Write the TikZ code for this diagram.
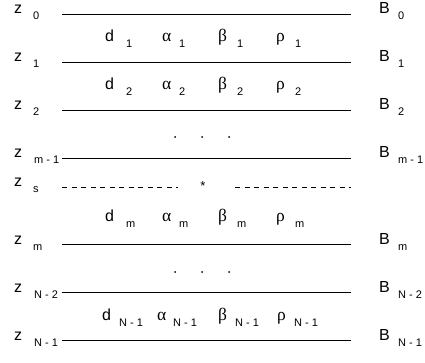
\documentclass[tikz,border=0pt]{standalone}
\usepackage{fontspec}
\setmainfont{Liberation Sans}
\newfontfamily\grk{Liberation Serif}
\newcommand{\lbl}[6]{%
  \node[mainlbl] (#1) at (#2,#3) {#4};
  \node[sublbl] (#1s) at (#5,#3+6) {#6};}
\newcommand{\glbl}[6]{%
  \node[grklbl] (#1) at (#2,#3) {#4};
  \node[sublbl] (#1s) at (#5,#3+6) {#6};}
\begin{document}
\begin{tikzpicture}[x=1pt,y=-1pt,
  mainlbl/.style={anchor=base west,inner sep=0pt,font=\fontsize{16}{18}\selectfont},
  grklbl/.style={anchor=base west,inner sep=0pt,font=\fontsize{17.5}{18}\selectfont\grk},
  sublbl/.style={anchor=base west,inner sep=0pt,font=\fontsize{11}{12}\selectfont},
  layerline/.style={line width=0.8pt},
  srcline/.style={line width=0.7pt,dash pattern=on 5pt off 4.5pt},
  dotmark/.style={circle,fill,inner sep=0pt,minimum size=2pt}]
\useasboundingbox (0,0) rectangle (425,363);
% interface lines
\foreach \n/\y in {a/14,b/62,c/110,d/158,e/244,f/292,g/340}{
  \coordinate (\n L) at (62,\y);
  \coordinate (\n R) at (351,\y);
  \draw[layerline] (\n L) -- (\n R);
}
\coordinate (sL) at (62,187);
\coordinate (sM1) at (178,187);
\coordinate (sM2) at (235,187);
\coordinate (sR) at (351,187);
\draw[srcline] (sL) -- (sM1);
\draw[srcline] (sM2) -- (sR);
\node[anchor=base,inner sep=0pt,font=\fontsize{13}{13}\selectfont] (star) at (203,191) {*};
% z labels
\lbl{z0}{14}{14}{z}{33}{0}
\lbl{z1}{14}{62}{z}{33}{1}
\lbl{z2}{14}{110}{z}{33}{2}
\lbl{zm1}{14}{158}{z}{34}{m - 1}
\lbl{zs}{14}{187}{z}{33}{s}
\lbl{zm}{14}{244}{z}{33}{m}
\lbl{zN2}{14}{292}{z}{34}{N - 2}
\lbl{zN1}{14}{340}{z}{34}{N - 1}
% B labels
\lbl{B0}{379}{14}{B}{398}{0}
\lbl{B1}{379}{62}{B}{398}{1}
\lbl{B2}{379}{110}{B}{398}{2}
\lbl{Bm1}{379}{158}{B}{398}{m - 1}
\lbl{Bm}{379}{244}{B}{398}{m}
\lbl{BN2}{379}{292}{B}{398}{N - 2}
\lbl{BN1}{379}{340}{B}{398}{N - 1}
% layer parameters
\lbl{d1}{105}{42}{d}{126}{1}
\glbl{a1}{162}{42}{α}{179}{1}
\glbl{b1}{218}{42}{β}{237}{1}
\glbl{r1}{276}{42}{ρ}{295}{1}
\lbl{d2}{105}{90}{d}{126}{2}
\glbl{a2}{162}{90}{α}{179}{2}
\glbl{b2}{218}{90}{β}{237}{2}
\glbl{r2}{276}{90}{ρ}{295}{2}
\lbl{dm}{105}{222}{d}{126}{m}
\glbl{am}{162}{222}{α}{179}{m}
\glbl{bm}{218}{222}{β}{237}{m}
\glbl{rm}{276}{222}{ρ}{295}{m}
\lbl{dN}{102}{320}{d}{119}{N - 1}
\glbl{aN}{157}{320}{α}{173}{N - 1}
\glbl{bN}{218}{320}{β}{235}{N - 1}
\glbl{rN}{277}{320}{ρ}{294}{N - 1}
% dots
\foreach \x/\k in {175/1,202/2,229/3}{
  \node[dotmark] (p\k) at (\x,137) {};
  \node[dotmark] (q\k) at (\x,272) {};
}
\end{tikzpicture}
\end{document}
